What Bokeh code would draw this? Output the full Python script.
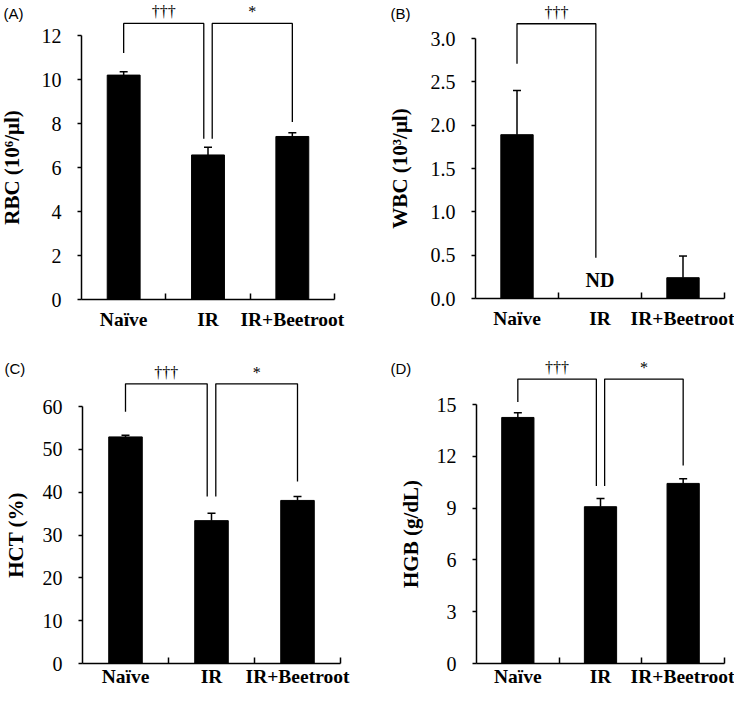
from bokeh.plotting import figure
from bokeh.layouts import column, row
from bokeh.models import Range1d, FixedTicker, Label, TeeHead, Whisker, ColumnDataSource
from bokeh.core.properties import value
from bokeh.embed import file_html
from bokeh.resources import INLINE

# ---------------- data ----------------
groups = ["Naïve", "IR", "IR+Beetroot"]

rbc_mean = [10.2, 6.57, 7.41]
rbc_err = [0.15, 0.35, 0.17]
wbc_mean = [1.89, 0.0, 0.24]
wbc_err = [0.51, 0.0, 0.25]
hct_mean = [52.9, 33.35, 38.07]
hct_err = [0.4, 1.75, 0.9]
hgb_mean = [14.25, 9.08, 10.43]
hgb_err = [0.27, 0.47, 0.27]

rbc_ticks = [0, 2, 4, 6, 8, 10, 12]
wbc_ticks = [0.0, 0.5, 1.0, 1.5, 2.0, 2.5, 3.0]
hct_ticks = [0, 10, 20, 30, 40, 50, 60]
hgb_ticks = [0, 3, 6, 9, 12, 15]

# brackets: (left group, right group, left leg bottom, right leg bottom, top, mark)
rbc_brackets = [(0, 1, 11.2, 7.31, 12.55, "†††"), (1, 2, 7.31, 8.07, 12.55, "*")]
wbc_brackets = [(0, 1, 2.71, 0.47, 3.17, "†††")]
hct_brackets = [(0, 1, 58.8, 39.0, 65.3, "†††"), (1, 2, 39.0, 42.5, 65.3, "*")]
hgb_brackets = [(0, 1, 15.15, 10.28, 16.47, "†††"), (1, 2, 10.28, 11.46, 16.47, "*")]

SERIF = "Liberation Serif"
SANS = "Liberation Sans"
W, H = 367, 344


def panel(tag, ylabel, means, errs, ticks, brackets, frame, top_tick_px, tag_px,
          y_lab_standoff, x_lab_standoff, nd=None):
    # frame = (y-axis x, x-axis right end, x-axis y) in figure pixels.
    # The drawing frame spans the whole figure; both axes are fixed at 0 inside it,
    # so axes, labels and the panel tag are all drawn within the frame.
    ax, fr, fb = frame
    ppx = (fr - ax) / 3.0
    ppy = (fb - top_tick_px) / ticks[-1]
    x_rng = Range1d(-ax / ppx, 3 + (W - fr) / ppx)
    y_rng = Range1d(-(H - fb) / ppy, fb / ppy)
    p = figure(width=W, height=H, output_backend="svg", toolbar_location=None,
               x_range=x_rng, y_range=y_rng,
               min_border_left=0, min_border_right=0, min_border_bottom=0,
               min_border_top=0)
    p.outline_line_color = None
    p.xgrid.visible = False
    p.ygrid.visible = False

    xs = [i + 0.5 for i in range(len(groups))]
    src = ColumnDataSource(dict(x=xs, top=means))
    p.vbar(x="x", top="top", width=0.39, source=src, fill_color="black", line_color="black")
    keep = [i for i, e in enumerate(errs) if e > 0]
    wsrc = ColumnDataSource(dict(x=[xs[i] for i in keep],
                                 lo=[means[i] for i in keep],
                                 hi=[means[i] + errs[i] for i in keep]))
    w = Whisker(base="x", lower="lo", upper="hi", source=wsrc, dimension="height",
                line_color="black", line_width=1.5, lower_head=None,
                upper_head=TeeHead(size=8, line_color="black", line_width=1.5))
    p.add_layout(w)

    # significance brackets
    bxs, bys, tx, ty, tt = [], [], [], [], []
    for g1, g2, l1, l2, top, mark in brackets:
        x1 = g1 + 0.5 + (0.05 if g1 == 1 else 0)
        x2 = g2 + 0.5 - (0.05 if g2 == 1 else 0)
        bxs.append([x1, x1, x2, x2])
        bys.append([l1, top, top, l2])
        tx.append((x1 + x2) / 2)
        ty.append(top)
        tt.append(mark)
    p.multi_line(xs=bxs, ys=bys, line_color="black", line_width=1.3)
    p.text(x=tx, y=ty, text=tt, text_align="center", text_baseline="bottom", y_offset=-3,
           text_font=value(SERIF), text_font_size="16px", text_color="black")

    if nd is not None:
        p.text(x=[nd + 0.5], y=[0], text=["ND"], text_align="center", text_baseline="bottom",
               y_offset=-8, text_font=value(SERIF), text_font_style="bold",
               text_font_size="20px", text_color="black")

    # y axis, fixed at x = 0
    ya = p.yaxis[0]
    ya.fixed_location = 0
    ya.ticker = FixedTicker(ticks=ticks, minor_ticks=[])
    ya.bounds = (ticks[0], ticks[-1])
    ya.axis_line_width = 1.5
    ya.major_tick_line_width = 1.5
    ya.major_tick_in = 0
    ya.major_tick_out = 4
    ya.minor_tick_line_color = None
    ya.major_label_text_font = SERIF
    ya.major_label_text_font_size = "20px"
    ya.major_label_text_color = "black"
    ya.major_label_standoff = 16
    if isinstance(ticks[1], float):
        ya.major_label_overrides = {t: f"{t:.1f}" for t in ticks}
    ya.axis_label = ylabel
    ya.axis_label_text_font = SERIF
    ya.axis_label_text_font_style = "bold"
    ya.axis_label_text_font_size = "21px"
    ya.axis_label_text_color = "black"
    ya.axis_label_standoff = y_lab_standoff

    # x axis, fixed at y = 0
    xa = p.xaxis[0]
    xa.fixed_location = 0
    xa.bounds = (0, 3)
    xa.ticker = FixedTicker(ticks=xs, minor_ticks=[1, 2, 3])
    xa.major_label_overrides = {x: g for x, g in zip(xs, groups)}
    xa.axis_line_width = 1.5
    xa.major_tick_line_color = None
    xa.major_tick_in = 0
    xa.major_tick_out = 0
    xa.minor_tick_line_color = "black"
    xa.minor_tick_line_width = 1.5
    xa.minor_tick_in = 6
    xa.minor_tick_out = 0
    xa.major_label_text_font = SERIF
    xa.major_label_text_font_style = "bold"
    xa.major_label_text_font_size = "19.5px"
    xa.major_label_text_color = "black"
    xa.major_label_standoff = x_lab_standoff

    # panel tag (screen units: from frame left, from frame bottom; frame = whole figure)
    p.add_layout(Label(x=tag_px[0], y=H - tag_px[1], x_units="screen", y_units="screen",
                       text=tag, text_font=SANS, text_font_size="15px", text_color="black",
                       text_baseline="middle", text_align="left"))
    return p


pA = panel("(A)", "RBC (10⁶/μl)", rbc_mean, rbc_err, rbc_ticks, rbc_brackets,
           frame=(81, 334, 299), top_tick_px=35, tag_px=(3, 13),
           y_lab_standoff=15, x_lab_standoff=9)
pB = panel("(B)", "WBC (10³/μl)", wbc_mean, wbc_err, wbc_ticks, wbc_brackets,
           frame=(108, 357, 298), top_tick_px=38, tag_px=(23, 13),
           y_lab_standoff=16, x_lab_standoff=9, nd=1)
pC = panel("(C)", "HCT (%)", hct_mean, hct_err, hct_ticks, hct_brackets,
           frame=(82, 340, 319), top_tick_px=62, tag_px=(4, 24),
           y_lab_standoff=12, x_lab_standoff=2)
pD = panel("(D)", "HGB (g/dL)", hgb_mean, hgb_err, hgb_ticks, hgb_brackets,
           frame=(109, 357, 319), top_tick_px=60, tag_px=(23, 24),
           y_lab_standoff=11, x_lab_standoff=2)

layout = column(row(pA, pB), row(pC, pD))

with open("out.html", "w") as f:
    f.write(file_html(layout, INLINE))
